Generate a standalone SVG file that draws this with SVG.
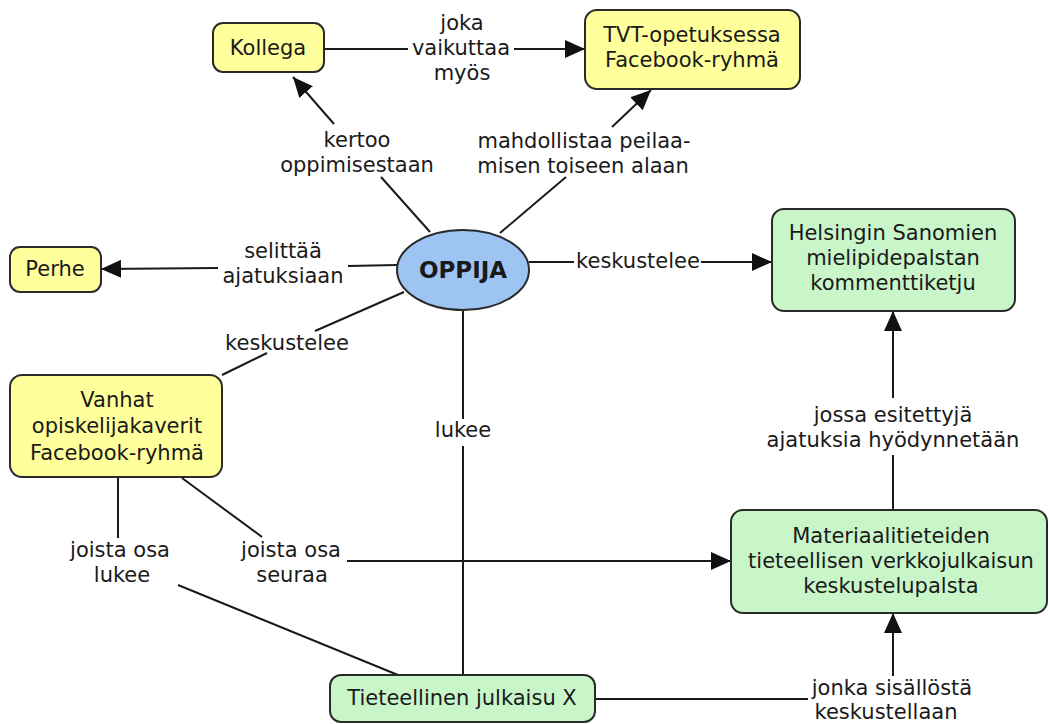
<svg xmlns="http://www.w3.org/2000/svg" width="1049" height="724" viewBox="0 0 1049 724">
<style>
text{font-family:"DejaVu Sans",Verdana,sans-serif;font-size:21px;fill:#1a1a1a;text-anchor:middle}
.y{fill:#ffff9c;stroke:#2a2a2a;stroke-width:2}
.g{fill:#c9f6c9;stroke:#2a2a2a;stroke-width:2}
.b{fill:#9dc4f3;stroke:#2a2a2a;stroke-width:2}
.c line{stroke:#1a1a1a;stroke-width:2}
.bold{font-weight:bold;font-size:23px}
</style>
<defs>
<marker id="ah" markerUnits="userSpaceOnUse" markerWidth="20" markerHeight="18" refX="20" refY="9" orient="auto">
<path d="M0,0 L20,9 L0,18 z" fill="#111"/>
</marker>
</defs>
<rect width="1049" height="724" fill="#fff"/>
<g class="c" id="connectors">
<line x1="430" y1="232" x2="381" y2="177"/>
<line x1="334" y1="124" x2="293" y2="77" marker-end="url(#ah)"/>
<text x="357" y="147">kertoo</text>
<text x="357" y="172">oppimisestaan</text>
<line x1="500" y1="233" x2="566" y2="177"/>
<line x1="612" y1="127" x2="651" y2="90" marker-end="url(#ah)"/>
<text x="584" y="148">mahdollistaa peilaa-</text>
<text x="583" y="173">misen toiseen alaan</text>
<line x1="324" y1="49" x2="408" y2="49"/>
<line x1="514" y1="49" x2="585" y2="49" marker-end="url(#ah)"/>
<text x="462" y="30">joka</text>
<text x="461" y="55">vaikuttaa</text>
<text x="462" y="80">myös</text>
<line x1="397" y1="265" x2="348" y2="266"/>
<line x1="218" y1="268" x2="101" y2="269" marker-end="url(#ah)"/>
<text x="283" y="258">selittää</text>
<text x="283" y="283">ajatuksiaan</text>
<line x1="404" y1="292" x2="315" y2="331"/>
<line x1="267" y1="353" x2="222" y2="375"/>
<text x="287" y="350">keskustelee</text>
<line x1="529" y1="262" x2="574" y2="262"/>
<line x1="701" y1="262" x2="772" y2="262" marker-end="url(#ah)"/>
<text x="638" y="268">keskustelee</text>
<line x1="463" y1="310" x2="463" y2="419"/>
<line x1="463" y1="446" x2="463" y2="675"/>
<text x="463" y="437">lukee</text>
<line x1="118" y1="477" x2="118" y2="538"/>
<line x1="178" y1="585" x2="398" y2="675"/>
<text x="120" y="557">joista osa</text>
<text x="122" y="582">lukee</text>
<line x1="182" y1="478" x2="262" y2="537"/>
<line x1="347" y1="561" x2="731" y2="561" marker-end="url(#ah)"/>
<text x="291" y="557">joista osa</text>
<text x="292" y="582">seuraa</text>
<line x1="893" y1="510" x2="893" y2="455"/>
<line x1="893" y1="398" x2="893" y2="311" marker-end="url(#ah)"/>
<text x="893" y="422">jossa esitettyjä</text>
<text x="893" y="447">ajatuksia hyödynnetään</text>
<line x1="595" y1="699" x2="808" y2="699"/>
<line x1="893" y1="676" x2="893" y2="613" marker-end="url(#ah)"/>
<text x="892" y="695">jonka sisällöstä</text>
<text x="886" y="719">keskustellaan</text>
</g>
<g id="oppija">
<ellipse class="b" cx="463" cy="270" rx="66" ry="40"/>
<text class="bold" x="463" y="278">OPPIJA</text>
</g>
<g id="kollega">
<rect class="y" x="213" y="23" width="111" height="49" rx="10"/>
<text x="268" y="55">Kollega</text>
</g>
<g id="tvt">
<rect class="y" x="585" y="10" width="215" height="79" rx="12"/>
<text x="692" y="42">TVT-opetuksessa</text>
<text x="692" y="67">Facebook-ryhmä</text>
</g>
<g id="perhe">
<rect class="y" x="10" y="247" width="91" height="45" rx="10"/>
<text x="55" y="276">Perhe</text>
</g>
<g id="vanhat">
<rect class="y" x="10" y="375" width="212" height="102" rx="12"/>
<text x="117" y="407">Vanhat</text>
<text x="117" y="433">opiskelijakaverit</text>
<text x="117" y="460">Facebook-ryhmä</text>
</g>
<g id="helsingin">
<rect class="g" x="772" y="209" width="243" height="102" rx="12"/>
<text x="893" y="240">Helsingin Sanomien</text>
<text x="893" y="265">mielipidepalstan</text>
<text x="893" y="290">kommenttiketju</text>
</g>
<g id="materiaali">
<rect class="g" x="731" y="510" width="316" height="103" rx="12"/>
<text x="891" y="543">Materiaalitieteiden</text>
<text x="891" y="568">tieteellisen verkkojulkaisun</text>
<text x="891" y="593">keskustelupalsta</text>
</g>
<g id="tieteellinen">
<rect class="g" x="330" y="675" width="265" height="47" rx="11"/>
<text x="462" y="705">Tieteellinen julkaisu X</text>
</g>
</svg>
